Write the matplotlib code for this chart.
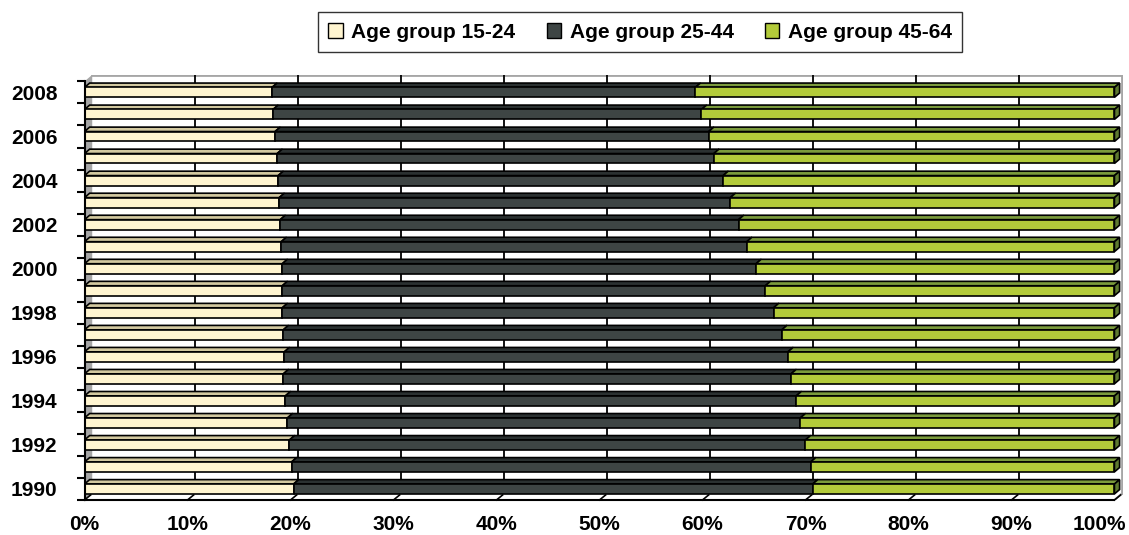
import numpy as np
import matplotlib
matplotlib.use("Agg")
import matplotlib.pyplot as plt
from matplotlib.patches import Polygon, Patch
from matplotlib.transforms import ScaledTranslation

years = list(range(1990, 2009))

# shares in percent (bottom bar = 1990)
age_15_24 = [20.3, 20.1, 19.9, 19.7, 19.5, 19.3, 19.4, 19.3, 19.2, 19.2,
             19.2, 19.1, 19.0, 18.9, 18.8, 18.7, 18.5, 18.3, 18.2]
cum_to_44 = [70.7, 70.5, 70.0, 69.5, 69.1, 68.6, 68.3, 67.7, 66.9, 66.1,
             65.2, 64.3, 63.5, 62.7, 62.0, 61.1, 60.6, 59.9, 59.3]
age_25_44 = [c - a for c, a in zip(cum_to_44, age_15_24)]
age_45_64 = [100 - c for c in cum_to_44]

labels = ["Age group 15-24", "Age group 25-44", "Age group 45-64"]
front = ["#FFF5D0", "#3E4544", "#B3CB3A"]
top = ["#D3C9A0", "#2B3131", "#7B9B3C"]
side = "#5E7A30"

plt.rcParams["font.family"] = ["Liberation Sans", "DejaVu Sans"]
plt.rcParams["font.weight"] = "bold"

fig = plt.figure(figsize=(11.29, 5.35), dpi=100)
ax = fig.add_axes([84.5 / 1129, 35 / 535, (1123 - 84.5) / 1129, 425.2 / 535])

h = 0.45      # bar thickness (slot units)
dx, dy = 0.5, 0.2      # bar depth
wx, wy = 0.75, 0.3     # wall depth
ypos = np.arange(len(years))

# walls and gridlines
ax.add_patch(Polygon([(0, -0.5), (wx, -0.5 + wy), (wx, 18.5 + wy), (0, 18.5)],
                     closed=True, fc="#A6A6A6", ec="none", zorder=0))
ax.plot([wx, 100 + wx], [18.5 + wy, 18.5 + wy], color="#A6A6A6", lw=2, zorder=0.5)
ax.plot([100 + wx, 100 + wx], [-0.5 + wy, 18.5 + wy], color="#A6A6A6", lw=2, zorder=0.5)
ax.plot([100, 100 + wx], [-0.5, -0.5 + wy], color="#A6A6A6", lw=1.5, zorder=0.5)
for g in range(10, 100, 10):
    ax.plot([g + wx, g + wx], [-0.5 + wy, 18.5 + wy], color="black", lw=1.3, zorder=0.6)
for g in range(0, 101, 10):
    ax.plot([g, g + 0.6], [-0.5, -0.5 + 0.23], color="black", lw=1.2, zorder=0.7,
            clip_on=False)

series = [age_15_24, age_25_44, age_45_64]
left = np.zeros(len(years))
for j, vals in enumerate(series):
    vals = np.array(vals)
    ax.barh(ypos, vals, left=left, height=h, color=front[j], edgecolor="black",
            linewidth=1.2, zorder=3)
    for i in range(len(years)):
        l, r = left[i], left[i] + vals[i]
        yt = ypos[i] + h / 2
        ax.add_patch(Polygon([(l, yt), (r, yt), (r + dx, yt + dy), (l + dx, yt + dy)],
                             closed=True, fc=top[j], ec="black", lw=1.2, zorder=2))
        if j == 2:
            yb = ypos[i] - h / 2
            ax.add_patch(Polygon([(r, yb), (r, yt), (r + dx, yt + dy), (r + dx, yb + dy)],
                                 closed=True, fc=side, ec="black", lw=1.2, zorder=2))
    left = left + vals

ax.set_xlim(0, 100 + 0.83)
ax.set_ylim(-0.5, 18.5 + wy)
ax.set_facecolor("white")

for s in ["top", "right"]:
    ax.spines[s].set_visible(False)
ax.spines["left"].set_bounds(-0.5, 18.5)
ax.spines["bottom"].set_bounds(0, 100)
ax.spines["left"].set_linewidth(1.5)
ax.spines["bottom"].set_linewidth(1.5)
ax.spines["left"].set_zorder(5)
ax.spines["bottom"].set_zorder(5)

ax.set_xticks(range(0, 101, 10))
ax.set_xticklabels([f"{v}%" for v in range(0, 101, 10)])
ax.tick_params(axis="x", length=0, pad=11, labelsize=15)
last = ax.get_xticklabels()[-1]
last.set_horizontalalignment("right")
last.set_transform(last.get_transform() + ScaledTranslation(0.12, 0, fig.dpi_scale_trans))

ax.set_yticks(ypos[::2])
ax.set_yticklabels([str(y) for y in years[::2]])
ax.set_yticks(np.arange(-0.5, 19, 1), minor=True)
ax.tick_params(axis="y", which="major", length=0, pad=19.5, labelsize=15)
ax.tick_params(axis="y", which="minor", length=6, width=1.5, direction="out")

handles = [Patch(facecolor=front[j], edgecolor="black", label=labels[j]) for j in range(3)]
leg = fig.legend(handles=handles, loc="center", bbox_to_anchor=(640 / 1129, 1 - 32 / 535),
                 ncol=3, frameon=True, fancybox=False, edgecolor="black",
                 prop={"weight": "bold", "size": 15}, handlelength=0.7, handleheight=0.7,
                 handletextpad=0.4, columnspacing=1.5, borderpad=0.5)
leg.get_frame().set_linewidth(1.0)

fig.savefig("out.png", dpi=100)
